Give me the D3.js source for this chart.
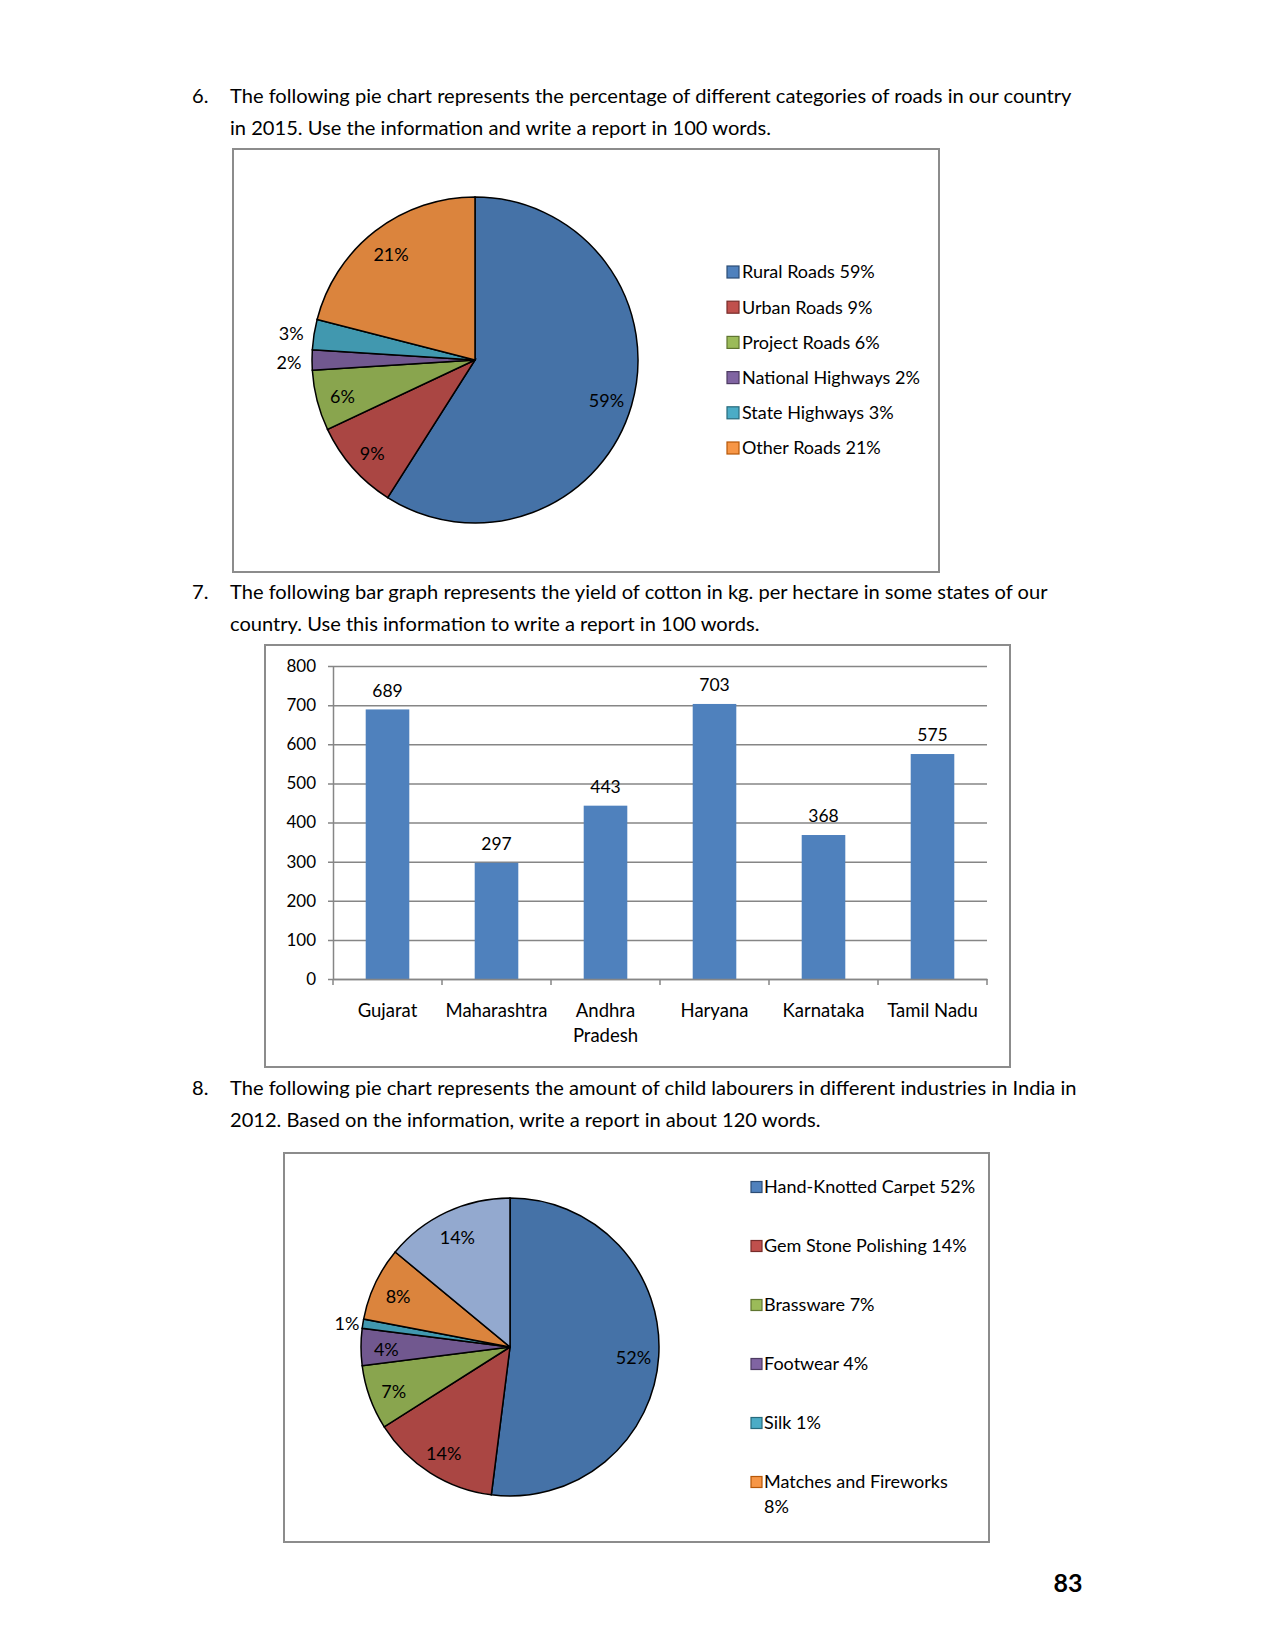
<!DOCTYPE html>
<html>
<head>
<meta charset="utf-8">
<script src="https://cdn.jsdelivr.net/npm/d3@7"></script>
<style>
  body { margin: 0; background: #fff; }
  text { font-family: Lato, "Open Sans", sans-serif; fill: #000; }
</style>
</head>
<body>
<svg id="page" width="1275" height="1651"></svg>
<script>
// ---- data ----
var roadCategories = ["Rural Roads", "Urban Roads", "Project Roads", "National Highways", "State Highways", "Other Roads"];
var roadShares = [59, 9, 6, 2, 3, 21];

var states = ["Gujarat", "Maharashtra", "Andhra Pradesh", "Haryana", "Karnataka", "Tamil Nadu"];
var cottonYield = [689, 297, 443, 703, 368, 575];
var yieldTicks = [0, 100, 200, 300, 400, 500, 600, 700, 800];

var industries = ["Hand-Knotted Carpet", "Gem Stone Polishing", "Brassware", "Footwear", "Silk", "Matches and Fireworks", "Others"];
var labourShares = [52, 14, 7, 4, 1, 8, 14];

var pieColors = ["#4572A7", "#AA4643", "#89A54E", "#71588F", "#4198AF", "#DB843D", "#93A9CF"];
var legendFill = ["#4F81BD", "#C0504D", "#9BBB59", "#8064A2", "#4BACC6", "#F79646"];
var legendStroke = ["#2C4D75", "#772C2A", "#5F7530", "#4D3B62", "#276A7C", "#B65708"];

var svg = d3.select("#page");
svg.append("rect").attr("width", 1275).attr("height", 1651).attr("fill", "#fff");

// ---- question text ----
var questions = [
  {num: "6.", y: 96, lines: ["The following pie chart represents the percentage of different categories of roads in our country",
                             "in 2015. Use the information and write a report in 100 words."]},
  {num: "7.", y: 592, lines: ["The following bar graph represents the yield of cotton in kg. per hectare in some states of our",
                              "country. Use this information to write a report in 100 words."]},
  {num: "8.", y: 1088, lines: ["The following pie chart represents the amount of child labourers in different industries in India in",
                               "2012. Based on the information, write a report in about 120 words."]}
];

questions.forEach(function (q) {
  svg.append("text").attr("x", 192).attr("y", q.y).attr("dy", "0.35em")
    .style("font-size", "20.1px").text(q.num);
  q.lines.forEach(function (l, i) {
    svg.append("text").attr("x", 230).attr("y", q.y + i * 32).attr("dy", "0.35em")
      .style("font-size", "20.1px").text(l);
  });
});

function box(x, y, w, h) {
  svg.append("rect").attr("x", x).attr("y", y).attr("width", w).attr("height", h)
    .attr("fill", "none").attr("stroke", "#8c8c8c").attr("stroke-width", 2);
}

// ---- pie helper ----
function drawPie(cx, cy, r, shares, outsideIdx, outsideR, labelK) {
  var g = svg.append("g").attr("transform", "translate(" + cx + "," + cy + ")");
  var pie = d3.pie().sort(null).value(function (d) { return d; });
  var arcs = pie(shares);
  var arc = d3.arc().innerRadius(0).outerRadius(r);
  var labelArc = d3.arc().innerRadius(r * labelK).outerRadius(r * labelK);
  var outArc = d3.arc().innerRadius(outsideR).outerRadius(outsideR);

  g.selectAll("path").data(arcs).enter().append("path")
    .attr("d", arc)
    .attr("fill", function (d, i) { return pieColors[i]; })
    .attr("stroke", "#000").attr("stroke-width", 1.5);

  g.selectAll(".lbl").data(arcs).enter().append("text")
    .attr("class", "lbl")
    .attr("transform", function (d, i) {
      var c = outsideIdx.indexOf(i) >= 0 ? outArc.centroid(d) : labelArc.centroid(d);
      return "translate(" + c + ")";
    })
    .attr("text-anchor", "middle").attr("dy", "0.5em")
    .style("font-size", "18px")
    .text(function (d) { return d.data + "%"; });
}

function drawLegend(x, y, gap, names, shares, sq, wrapIdx, pad) {
  var g = svg.append("g");
  names.forEach(function (n, i) {
    var yy = y + i * gap;
    g.append("rect").attr("x", x).attr("y", yy - sq / 2).attr("width", sq).attr("height", sq)
      .attr("fill", legendFill[i]).attr("stroke", legendStroke[i]).attr("stroke-width", 1.2);
    if (i === wrapIdx) {
      g.append("text").attr("x", x + sq + pad).attr("y", yy).attr("dy", "0.35em")
        .style("font-size", "18px").text(n);
      g.append("text").attr("x", x + sq + pad).attr("y", yy + 25).attr("dy", "0.35em")
        .style("font-size", "18px").text(shares[i] + "%");
    } else {
      g.append("text").attr("x", x + sq + pad).attr("y", yy).attr("dy", "0.35em")
        .style("font-size", "18px").text(n + " " + shares[i] + "%");
    }
  });
}

// ---- chart 1: roads pie ----
box(233, 149, 706, 423);
drawPie(475, 360, 163, roadShares, [3, 4], 186, 0.84);
drawLegend(727, 272, 35.2, roadCategories, roadShares, 12, -1, 3);

// ---- chart 2: cotton bar chart ----
box(265, 645, 745, 422);
var x = d3.scaleBand().domain(states).range([333, 987]).paddingInner(0.6).paddingOuter(0.3);
var y = d3.scaleLinear().domain([0, 800]).range([979, 666]);

var yAxis = svg.append("g").attr("transform", "translate(333,0)")
  .call(d3.axisLeft(y).tickValues(yieldTicks).tickSizeInner(-(987 - 333)).tickSizeOuter(0).tickPadding(17));
yAxis.select(".domain").attr("stroke", "#868686").attr("stroke-width", 1.5);
yAxis.selectAll(".tick line").attr("x1", -5).attr("stroke", "#868686").attr("stroke-width", 1.5);
yAxis.selectAll(".tick text").style("font-size", "17px").style("font-family", "Lato, sans-serif").attr("fill", "#000");

svg.selectAll(".bar").data(cottonYield).enter().append("rect")
  .attr("class", "bar")
  .attr("x", function (d, i) { return x(states[i]); })
  .attr("width", x.bandwidth())
  .attr("y", function (d) { return y(d); })
  .attr("height", function (d) { return y(0) - y(d); })
  .attr("fill", "#4F81BD");

svg.selectAll(".val").data(cottonYield).enter().append("text")
  .attr("class", "val")
  .attr("x", function (d, i) { return x(states[i]) + x.bandwidth() / 2; })
  .attr("y", function (d) { return y(d) - 19; })
  .attr("text-anchor", "middle").attr("dy", "0.35em")
  .style("font-size", "17.5px")
  .text(function (d) { return d; });

// category boundary ticks on the x axis
var half = (x.step() - x.bandwidth()) / 2;
var bounds = states.map(function (s) { return x(s) - half; }).concat([987]);
svg.selectAll(".xtick").data(bounds).enter().append("line")
  .attr("x1", function (d) { return d; }).attr("x2", function (d) { return d; })
  .attr("y1", y(0)).attr("y2", y(0) + 6)
  .attr("stroke", "#868686").attr("stroke-width", 1.5);

var xAxis = svg.append("g").attr("transform", "translate(0," + y(0) + ")")
  .call(d3.axisBottom(x).tickSize(0).tickPadding(0));
xAxis.select(".domain").attr("stroke", "#868686").attr("stroke-width", 1.5);
xAxis.selectAll(".tick text").each(function (d) {
  var t = d3.select(this).text("").attr("y", 0).attr("dy", null)
    .style("font-size", "18.5px").style("font-family", "Lato, sans-serif").attr("fill", "#000");
  var words = d === "Andhra Pradesh" ? ["Andhra", "Pradesh"] : [d];
  words.forEach(function (w, i) {
    t.append("tspan").attr("x", 0).attr("y", 32 + i * 25).attr("dy", "0.35em").text(w);
  });
});

// ---- chart 3: child labour pie ----
box(284, 1153, 705, 389);
drawPie(510, 1347, 149, labourShares, [4], 165, 0.83);
drawLegend(751, 1187, 59, industries.slice(0, 6), labourShares, 11, 5, 2);

// ---- page number ----
svg.append("text").attr("x", 1068).attr("y", 1583).attr("dy", "0.35em")
  .attr("text-anchor", "middle").style("font-size", "25px").style("font-weight", "bold").text("83");
</script>
</body>
</html>
